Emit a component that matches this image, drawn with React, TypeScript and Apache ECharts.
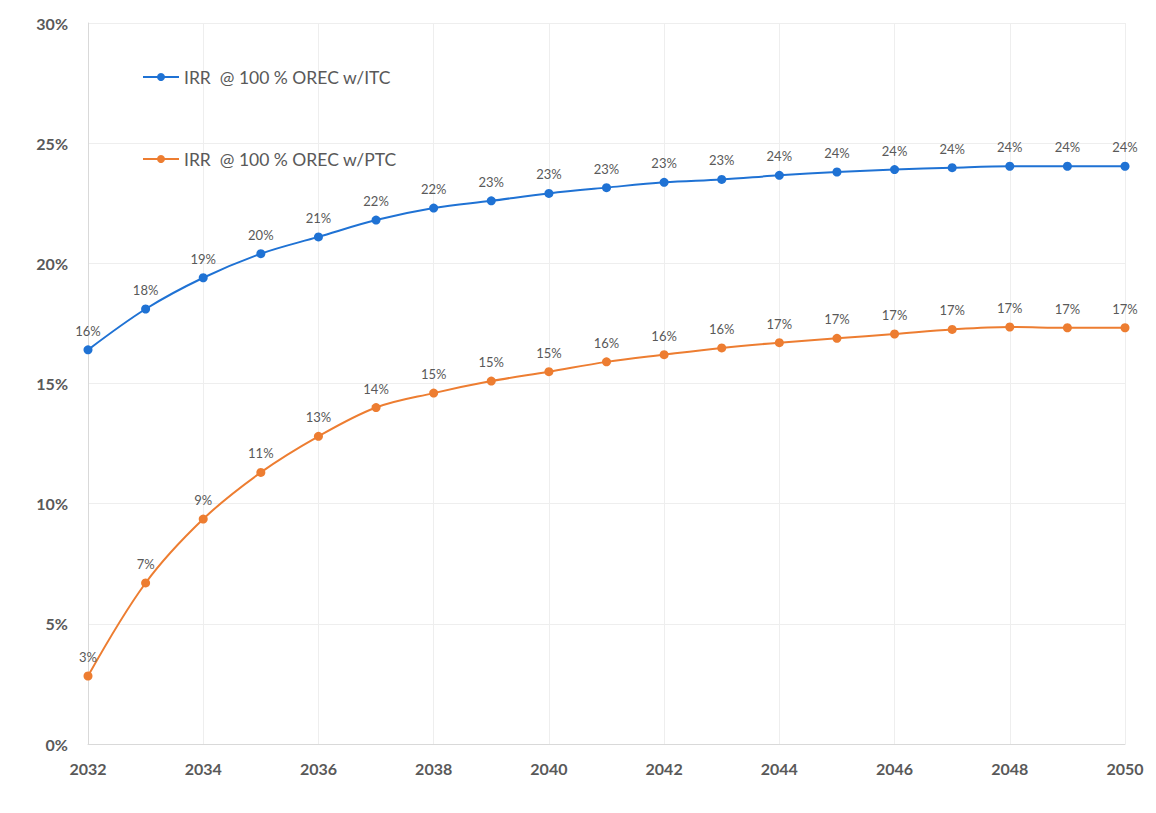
import React, { useEffect, useRef } from "react";
import * as echarts from "echarts";

const years = [2032, 2033, 2034, 2035, 2036, 2037, 2038, 2039, 2040, 2041, 2042, 2043, 2044, 2045, 2046, 2047, 2048, 2049, 2050];
const itcValues = [16.4, 18.1, 19.4, 20.4, 21.1, 21.8, 22.3, 22.6, 22.91, 23.15, 23.37, 23.49, 23.66, 23.8, 23.9, 23.98, 24.04, 24.04, 24.04];
const ptcValues = [2.83, 6.7, 9.36, 11.3, 12.8, 14.0, 14.6, 15.1, 15.49, 15.9, 16.2, 16.48, 16.7, 16.88, 17.06, 17.25, 17.35, 17.32, 17.32];
const seriesNames = ["IRR  @ 100 % OREC w/ITC", "IRR  @ 100 % OREC w/PTC"];

const FONT = "Lato, 'Noto Sans', sans-serif";
const TEXT = "#595959";

export default function App() {
  const ref = useRef<HTMLDivElement>(null);
  useEffect(() => {
    document.body.style.margin = "0";
    const chart = echarts.init(ref.current!, undefined, { renderer: "svg" });
    const mk = (name: string, vals: number[], color: string) => ({
      name,
      type: "line",
      smooth: 0.35,
      data: years.map((y, i) => [y, vals[i]]),
      symbol: "circle",
      symbolSize: 9,
      lineStyle: { color, width: 2 },
      itemStyle: { color },
      label: {
        show: true,
        position: "top",
        distance: 8,
        color: TEXT,
        fontFamily: FONT,
        fontSize: 13,
        formatter: (p: any) => Math.round(p.value[1]) + "%",
      },
    });
    const legendBase = {
      left: 137,
      orient: "vertical",
      itemWidth: 36,
      itemHeight: 10,
      itemGap: 8,
      textStyle: { color: TEXT, fontFamily: FONT, fontSize: 17.5 },
    };
    chart.setOption({
      animation: false,
      backgroundColor: "#ffffff",
      grid: { left: 88, right: 31, top: 23, bottom: 69, containLabel: false },
      legend: [
        { ...legendBase, data: [seriesNames[0]], top: 63 },
        { ...legendBase, data: [seriesNames[1]], top: 145 },
      ],
      xAxis: {
        type: "value",
        min: 2032,
        max: 2050,
        interval: 2,
        axisLine: { show: true, lineStyle: { color: "#d9d9d9" } },
        axisTick: { show: false },
        splitLine: { show: true, lineStyle: { color: "#eeeeee" } },
        axisLabel: {
          color: TEXT,
          fontFamily: FONT,
          fontSize: 16,
          fontWeight: "bold",
          margin: 16,
          formatter: (v: number) => String(v),
        },
      },
      yAxis: {
        type: "value",
        min: 0,
        max: 30,
        interval: 5,
        axisLine: { show: true, lineStyle: { color: "#d9d9d9" } },
        axisTick: { show: false },
        splitLine: { show: true, lineStyle: { color: "#eeeeee" } },
        axisLabel: {
          color: TEXT,
          fontFamily: FONT,
          fontSize: 16,
          fontWeight: "bold",
          margin: 20,
          formatter: "{value}%",
        },
      },
      series: [mk(seriesNames[0], itcValues, "#1f72d4"), mk(seriesNames[1], ptcValues, "#ed7d31")],
    });
    return () => chart.dispose();
  }, []);
  return <div ref={ref} style={{ width: 1156, height: 813 }} />;
}
